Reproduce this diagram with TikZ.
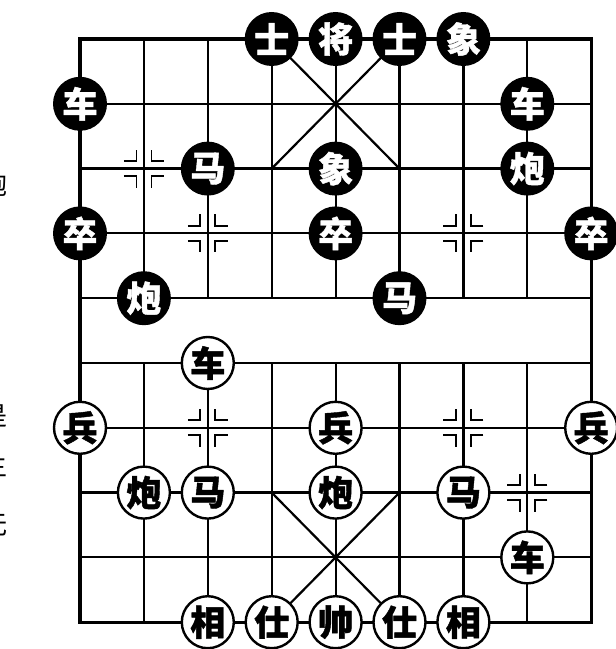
\documentclass[tikz,border=0pt]{standalone}
\usepackage{fontspec}
\newfontfamily\cjk{Noto Sans CJK SC}
\newfontfamily\cjkb[BoldFeatures={FakeBold=1.2}]{Noto Sans CJK SC}
\begin{document}
\begin{tikzpicture}[x=1pt,y=1pt,
  gridline/.style={line width=2.2pt},
  border/.style={line width=3.2pt},
  marker/.style={line width=1.8pt},
  bp/.style={circle,fill=black,text=white,minimum size=54pt,inner sep=0pt,
     font=\cjkb\bfseries\fontsize{35}{35}\selectfont},
  rp/.style={circle,draw=black,line width=2.4pt,fill=white,text=black,minimum size=52pt,inner sep=0pt,
     font=\cjkb\bfseries\fontsize{35}{35}\selectfont},
  frag/.style={inner sep=0pt,font=\cjk\fontsize{26}{26}\selectfont}]
\useasboundingbox (0,0) rectangle (616,649);
\foreach \i in {0,...,8}{
  \foreach \j in {0,...,9}{
    \coordinate (p\i\j) at ({80+63.9*\i},{610-64.8*\j});
  }
}
% grid
\foreach \j in {1,...,8}{ \draw[gridline] (p0\j) -- (p8\j); }
\foreach \i in {1,...,7}{
  \draw[gridline] (p\i0) -- (p\i4);
  \draw[gridline] (p\i5) -- (p\i9);
}
\draw[border] (p00) rectangle (p89);
% palaces
\draw[gridline] (p30) -- (p52) (p50) -- (p32);
\draw[gridline] (p37) -- (p59) (p57) -- (p39);
% position markers
\foreach \m in {12,23,63,26,66,77}{
  \foreach \sx/\sy in {1/1,1/-1,-1/1,-1/-1}{
    \draw[marker] ([shift={(\sx*20,\sy*7.5)}]p\m) -- ([shift={(\sx*7.5,\sy*7.5)}]p\m) -- ([shift={(\sx*7.5,\sy*19)}]p\m);
  }
}
% black pieces
\node[bp] (bs1) at (p30) {士};
\node[bp] (bk)  at (p40) {将};
\node[bp] (bs2) at (p50) {士};
\node[bp] (be1) at (p60) {象};
\node[bp] (br1) at (p01) {车};
\node[bp] (br2) at (p71) {车};
\node[bp] (bh1) at (p22) {马};
\node[bp] (be2) at (p42) {象};
\node[bp] (bc1) at (p72) {炮};
\node[bp] (bp1) at (p03) {卒};
\node[bp] (bp2) at (p43) {卒};
\node[bp] (bp3) at (p83) {卒};
\node[bp] (bc2) at (p14) {炮};
\node[bp] (bh2) at (p54) {马};
% red pieces
\node[rp] (rr1) at (p25) {车};
\node[rp] (rp1) at (p06) {兵};
\node[rp] (rp2) at (p46) {兵};
\node[rp] (rp3) at (p86) {兵};
\node[rp] (rc1) at (p17) {炮};
\node[rp] (rh1) at (p27) {马};
\node[rp] (rc2) at (p47) {炮};
\node[rp] (rh2) at (p67) {马};
\node[rp] (rr2) at (p78) {车};
\node[rp] (re1) at (p29) {相};
\node[rp] (ra1) at (p39) {仕};
\node[rp] (rk)  at (p49) {帅};
\node[rp] (ra2) at (p59) {仕};
\node[rp] (re2) at (p69) {相};
% cropped text fragments at the left edge (cut off in the reference too)
\node[frag] (f1) at (-5,464) {炮};
\node[frag] (f2) at (-5,233) {是};
\node[frag] (f3) at (-5,184) {主};
\node[frag] (f4) at (-5,124) {无};
\end{tikzpicture}
\end{document}
